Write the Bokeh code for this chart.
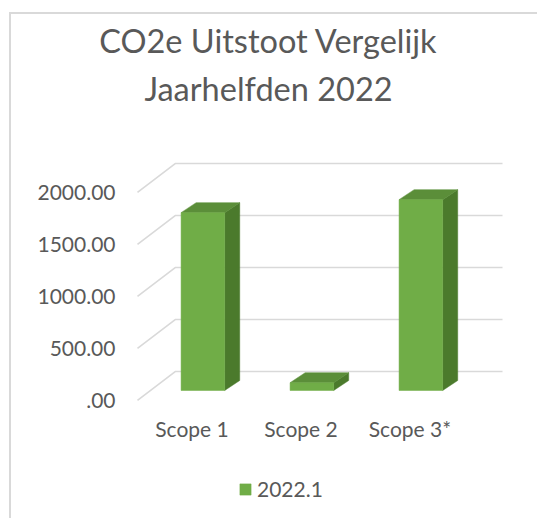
from bokeh.plotting import figure
from bokeh.models import ColumnDataSource, Range1d, FixedTicker, Title, Legend, LegendItem
from bokeh.embed import file_html
from bokeh.resources import INLINE

# ---- data ----
categories = ["Scope 1", "Scope 2", "Scope 3*"]
values = [1710, 75, 1835]
series_name = "2022.1"
y_ticks = [0, 500, 1000, 1500, 2000]
y_tick_labels = [".00", "500.00", "1000.00", "1500.00", "2000.00"]
title_lines = ["CO2e Uitstoot Vergelijk", "Jaarhelfden 2022"]

# ---- style ----
FONT = "Lato"
TEXT = "#595959"
GRID = "#d9d9d9"
FRONT = "#70ad47"
SIDE = "#4b7a2c"
TOP = "#5b8e39"

# pseudo-3D depth offsets (data units)
WALL_DX, WALL_DY = 0.349, 279
BAR_DX0, BAR_DY0 = 0.10, 96
BAR_DDX, BAR_DDY = 0.138, 96
BAR_W = 0.40

n = len(categories)
xc = [i + 0.5 for i in range(n)]

p = figure(width=528, height=506, x_range=Range1d(-1.156, 3.560), y_range=Range1d(-1154, 2788),
           output_backend="svg", toolbar_location=None, title=None,
           min_border_left=0, min_border_right=14, min_border_top=96, min_border_bottom=0,
           styles={"margin-left": "9px", "margin-top": "12px",
                   "border-top": "2px solid #d9d9d9", "border-left": "2px solid #d9d9d9"})
p.outline_line_color = None
p.xgrid.visible = False
p.ygrid.visible = False

# titles: first added sits closest to the plot
p.add_layout(Title(text=title_lines[1], align="center", text_font=FONT, text_font_size="32.5px",
                   text_font_style="normal", text_color=TEXT, standoff=6), "above")
p.add_layout(Title(text=title_lines[0], align="center", text_font=FONT, text_font_size="32.5px",
                   text_font_style="normal", text_color=TEXT, standoff=7), "above")

# gridlines: side wall diagonal + back wall horizontal
gxs = [[0, WALL_DX, WALL_DX + n] for t in y_ticks]
gys = [[t, t + WALL_DY, t + WALL_DY] for t in y_ticks]
p.multi_line(xs=gxs, ys=gys, line_color=GRID, line_width=1.6)

# bars
bx = [x + BAR_DX0 for x in xc]
front_src = ColumnDataSource(dict(x=bx, top=[BAR_DY0 + v for v in values], bottom=[BAR_DY0] * n))
side_xs, side_ys, top_xs, top_ys = [], [], [], []
for x, v in zip(bx, values):
    xl, xr = x - BAR_W / 2, x + BAR_W / 2
    b, t = BAR_DY0, BAR_DY0 + v
    side_xs.append([xr, xr + BAR_DDX, xr + BAR_DDX, xr])
    side_ys.append([b, b + BAR_DDY, t + BAR_DDY, t])
    top_xs.append([xl, xl + BAR_DDX, xr + BAR_DDX, xr])
    top_ys.append([t, t + BAR_DDY, t + BAR_DDY, t])
p.patches(xs=side_xs, ys=side_ys, fill_color=SIDE, line_color=SIDE, line_width=0.5)
p.patches(xs=top_xs, ys=top_ys, fill_color=TOP, line_color=TOP, line_width=0.5)
front = p.vbar(x="x", top="top", bottom="bottom", width=BAR_W, source=front_src,
               fill_color=FRONT, line_color=FRONT, line_width=0.5)

# axes (fixed inside the frame)
for ax in (p.xaxis, p.yaxis):
    ax.axis_line_color = None
    ax.major_tick_line_color = None
    ax.minor_tick_line_color = None
    ax.major_tick_out = 0
    ax.major_tick_in = 0
    ax.major_label_text_font = FONT
    ax.major_label_text_font_size = "21px"
    ax.major_label_text_color = TEXT
p.yaxis.ticker = FixedTicker(ticks=y_ticks)
p.yaxis.major_label_overrides = dict(zip(y_ticks, y_tick_labels))
p.yaxis.major_label_standoff = 22
p.yaxis.fixed_location = 0
p.xaxis.ticker = FixedTicker(ticks=xc)
p.xaxis.major_label_overrides = dict(zip(xc, categories))
p.xaxis.major_label_standoff = 11
p.xaxis.fixed_location = -48

legend = Legend(items=[LegendItem(label=series_name, renderers=[front])], location=(227, 19),
                orientation="horizontal", label_text_font=FONT, label_text_font_size="21px",
                label_text_color=TEXT, glyph_width=14, glyph_height=14, border_line_color=None,
                background_fill_alpha=0, padding=0, margin=0, label_standoff=5)
p.add_layout(legend)

open("out.html", "w").write(file_html(p, INLINE))
